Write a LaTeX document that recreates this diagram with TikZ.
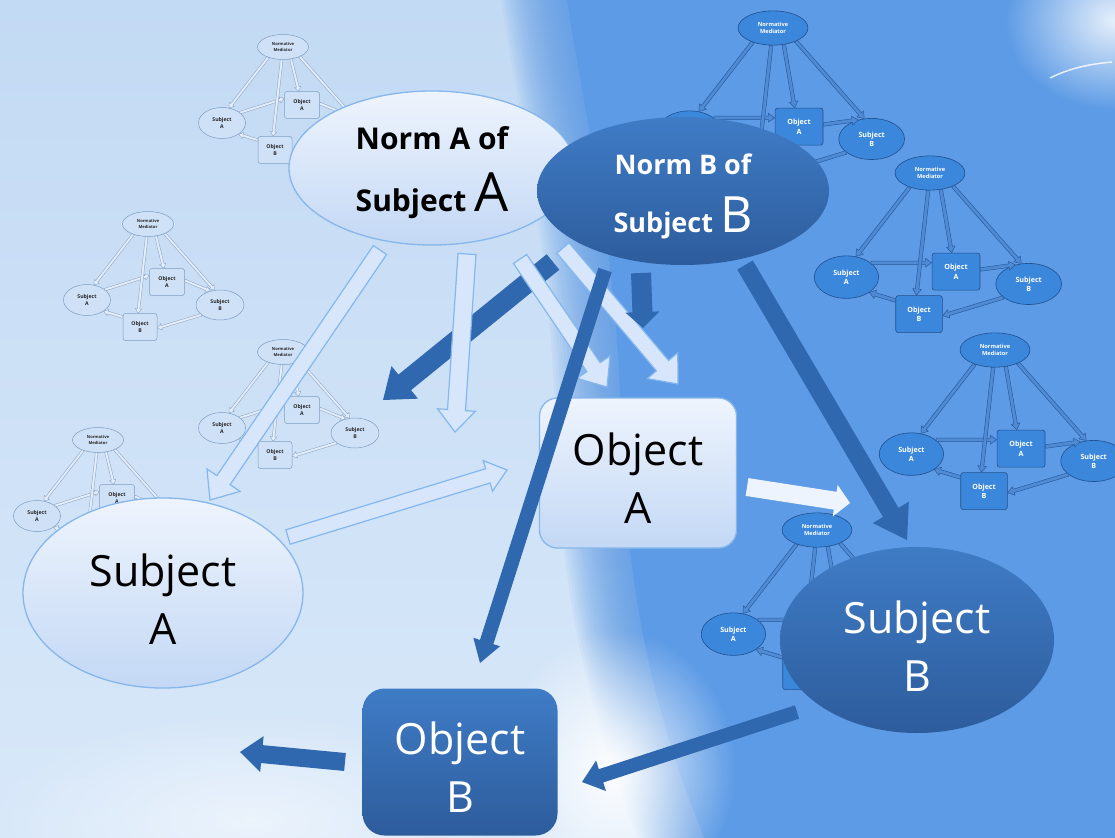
\documentclass[tikz,border=0pt]{standalone}
\usepackage{fontspec}
\setmainfont{Open Sans}
\usetikzlibrary{calc,fadings,shapes.geometric}
\definecolor{bgtop}{HTML}{C3DAF4}
\definecolor{bgbot}{HTML}{D8E8F9}
\definecolor{bluebg}{HTML}{5D9BE6}
\definecolor{lfillT}{HTML}{EEF4FD}
\definecolor{lfillB}{HTML}{C3D8F5}
\definecolor{ledge}{HTML}{86B6EA}
\definecolor{dfillT}{HTML}{3F7CC6}
\definecolor{dfillB}{HTML}{2D5C9C}
\definecolor{darr}{HTML}{3068B0}
\definecolor{larrF}{HTML}{D7E6FB}
\definecolor{larrD}{HTML}{84B7EE}
\definecolor{mlf}{HTML}{CFE1F7}
\definecolor{mld}{HTML}{7E9DC2}
\definecolor{mlaf}{HTML}{E4EEFB}
\definecolor{mlad}{HTML}{90A9C8}
\definecolor{mdf}{HTML}{3A87DC}
\definecolor{mdd}{HTML}{22508E}
\definecolor{mdaf}{HTML}{4F8BD5}
\definecolor{mdad}{HTML}{2A5B9C}
\tikzfading[name=glow, inner color=transparent!0, outer color=transparent!100]
\tikzset{
  mnode light/.style={draw=mld, fill=mlf, text=black!85, line width=0.5pt},
  mnode dark/.style={draw=mdd, fill=mdf, text=white, line width=0.6pt},
  marr light/.style={draw=mlad, fill=mlaf, line width=0.45pt},
  marr dark/.style={draw=mdad, fill=mdaf, line width=0.5pt},
  mell/.style={ellipse, inner sep=0pt, align=center},
  mbox/.style={rectangle, rounded corners=2.5pt, inner sep=0pt, align=center},
  mfont/.style={font=\fontsize{5.2}{6.8}\selectfont\bfseries},
  larrow/.style={draw=larrD, fill=larrF, line width=1.2pt, line join=miter},
  darrow/.style={fill=darr},
  lshape/.style={draw=ledge, line width=1.3pt, top color=lfillT, bottom color=lfillB, text=black, align=center, inner sep=0pt},
  dshape/.style={top color=dfillT, bottom color=dfillB, text=white, align=center, inner sep=0pt},
  bigfont/.style={font=\fontsize{43}{58}\selectfont}
}
\newcommand{\barrow}[6]{%
  \coordinate (bh) at ($(#3)!#6!(#2)$);
  \path[#1] ($(#2)!#4!90:(#3)$) -- ($(bh)!#4!90:(#3)$) -- ($(bh)!#5!90:(#3)$) -- (#3) -- ($(bh)!#5!-90:(#3)$) -- ($(bh)!#4!-90:(#3)$) -- ($(#2)!#4!-90:(#3)$) -- cycle;}
\newcommand{\minidiag}[6]{%
  \begin{scope}[shift={(#2,#3)}, scale=#4, transform shape]
    \node[mnode #5, mell, minimum width=51pt, minimum height=25pt, font=\fontsize{4.1}{5.2}\selectfont\bfseries] (#1nm) at (0,0) {Normative\\Mediator};
    \node[mnode #5, mell, mfont, minimum width=47pt, minimum height=31pt] (#1sa) at (-61,76) {Subject\\A};
    \node[mnode #5, mbox, mfont, minimum width=35pt, minimum height=27pt] (#1oa) at (19,#6) {Object\\A};
    \node[mnode #5, mell, mfont, minimum width=48pt, minimum height=30pt] (#1sb) at (72,81) {Subject\\B};
    \node[mnode #5, mbox, mfont, minimum width=34pt, minimum height=27pt] (#1ob) at (-8,103) {Object\\B};
  \end{scope}
  \pgfmathsetlengthmacro\mw{1.3pt*#4}%
  \pgfmathsetlengthmacro\mh{3.2pt*#4}%
  \pgfmathsetlengthmacro\ml{4.5pt*#4}%
  \barrow{marr #5}{#1nm.215}{#1sa.65}{\mw}{\mh}{\ml}
  \barrow{marr #5}{#1nm.303}{#1oa.103}{\mw}{\mh}{\ml}
  \barrow{marr #5}{#1nm.330}{#1sb.110}{\mw}{\mh}{\ml}
  \barrow{marr #5}{#1sa.30}{#1oa.160}{\mw}{\mh}{\ml}
  \barrow{marr #5}{#1nm.264}{#1ob.98}{\mw}{\mh}{\ml}
  \barrow{marr #5}{#1oa.5}{#1sb.125}{\mw}{\mh}{\ml}
  \barrow{marr #5}{#1sb.208}{#1ob.356}{\mw}{\mh}{\ml}
  \barrow{marr #5}{#1ob.150}{#1sa.326}{\mw}{\mh}{\ml}
}
\newcommand{\bluearea}{(550,-5) .. controls (575,150) and (600,250) .. (605,420) .. controls (610,600) and (640,720) .. (690,842) -- (1120,842) -- (1120,-5) -- cycle}
\begin{document}
\begin{tikzpicture}[x=1pt, y=-1pt]
\useasboundingbox (0,0) rectangle (1115,837);
% background
\shade[top color=bgtop, bottom color=bgbot] (0,0) rectangle (1115,837);
\foreach \dx in {-50,-47,...,13}{
  \fill[bluebg, opacity=0.075, xshift=\dx] \bluearea;
}
\fill[bluebg, xshift=16] \bluearea;
\fill[white, opacity=0.95, path fading=glow] (615,770) ellipse [x radius=120pt, y radius=140pt];
\fill[white, opacity=0.5, path fading=glow] (250,820) ellipse [x radius=260pt, y radius=110pt];
\fill[white, opacity=0.85, path fading=glow] (1115,20) ellipse [x radius=110pt, y radius=90pt];
\draw[white, opacity=0.8, line width=1.5pt] (1050,78) .. controls (1070,68) and (1090,64) .. (1112,62);

% mini diagrams
\minidiag{la}{283}{47}{1}{light}{58}
\minidiag{lb}{148}{224}{1}{light}{58}
\minidiag{lc}{283}{352}{1}{light}{58}
\minidiag{ld}{98}{440}{1}{light}{58}
\minidiag{da}{773}{28}{1.37}{dark}{72}
\minidiag{db}{930}{173}{1.37}{dark}{72}
\minidiag{dc}{995}{350}{1.37}{dark}{72}
\minidiag{dd}{817}{530}{1.37}{dark}{72}

% main nodes
\node[lshape, ellipse, minimum width=286pt, minimum height=154pt, font=\fontsize{30}{62}\selectfont\bfseries] (na) at (432,168)
  {\rule{0pt}{33pt}Norm A of\\Subject {\fontsize{54}{62}\selectfont\mdseries A}};
\node[lshape, rectangle, rounded corners=18pt, minimum width=197pt, minimum height=150pt, bigfont] (oa) at (638,473) {\rule{0pt}{43pt}Object\\A};
\node[lshape, ellipse, minimum width=280pt, minimum height=190pt, bigfont] (sa) at (163,593) {\rule{0pt}{45pt}Subject\\A};

% coordinates for arrows
\coordinate (a1s) at (380,250); \coordinate (a1e) at (210,500);
\coordinate (a2s) at (467,254); \coordinate (a2e) at (455,432);
\coordinate (a3s) at (520,259); \coordinate (a3e) at (607,387);
\coordinate (a4s) at (563,248); \coordinate (a4e) at (678,384);
\coordinate (a5s) at (288,537); \coordinate (a5e) at (507,470);
\coordinate (a6s) at (747,487); \coordinate (a6e) at (850,503);
\coordinate (a7s) at (553,262); \coordinate (a7e) at (383,400);
\coordinate (a8s) at (641,273); \coordinate (a8e) at (643,328);
\coordinate (a9s) at (605,270); \coordinate (a9e) at (480,663);
\coordinate (a10s) at (745,265); \coordinate (a10e) at (907,540);
\coordinate (a11s) at (797,712); \coordinate (a11e) at (582,782);
\coordinate (a12s) at (345,762); \coordinate (a12e) at (240,752);

\barrow{darrow}{a7s}{a7e}{10pt}{21pt}{28pt}
\barrow{larrow}{a1s}{a1e}{8pt}{20pt}{24pt}
\barrow{larrow}{a2s}{a2e}{9pt}{19pt}{22pt}
\barrow{larrow}{a3s}{a3e}{8pt}{20pt}{24pt}
\barrow{larrow}{a4s}{a4e}{8pt}{20pt}{24pt}
\barrow{larrow}{a5s}{a5e}{7.5pt}{16pt}{20pt}
\barrow{fill=white!55!larrF}{a6s}{a6e}{9pt}{16pt}{15pt}
\barrow{darrow}{a8s}{a8e}{10pt}{17pt}{16pt}
\barrow{darrow}{a9s}{a9e}{7pt}{14pt}{22pt}
\barrow{darrow}{a10s}{a10e}{9pt}{21pt}{32pt}

\node[dshape, ellipse, minimum width=292pt, minimum height=148pt, font=\fontsize{27}{58}\selectfont\bfseries] (nb) at (683,191)
  {\rule{0pt}{31pt}Norm B of\\Subject {\fontsize{50}{58}\selectfont\mdseries B}};
\node[dshape, ellipse, minimum width=274pt, minimum height=186pt, bigfont] (sb) at (917,640) {\rule{0pt}{44pt}Subject\\B};
\node[dshape, rectangle, rounded corners=22pt, minimum width=195pt, minimum height=147pt, bigfont] (ob) at (460,762) {\rule{0pt}{43pt}Object\\B};

\barrow{darrow}{a11s}{a11e}{7pt}{16pt}{20pt}
\barrow{darrow}{a12s}{a12e}{9pt}{18pt}{22pt}
\end{tikzpicture}
\end{document}
